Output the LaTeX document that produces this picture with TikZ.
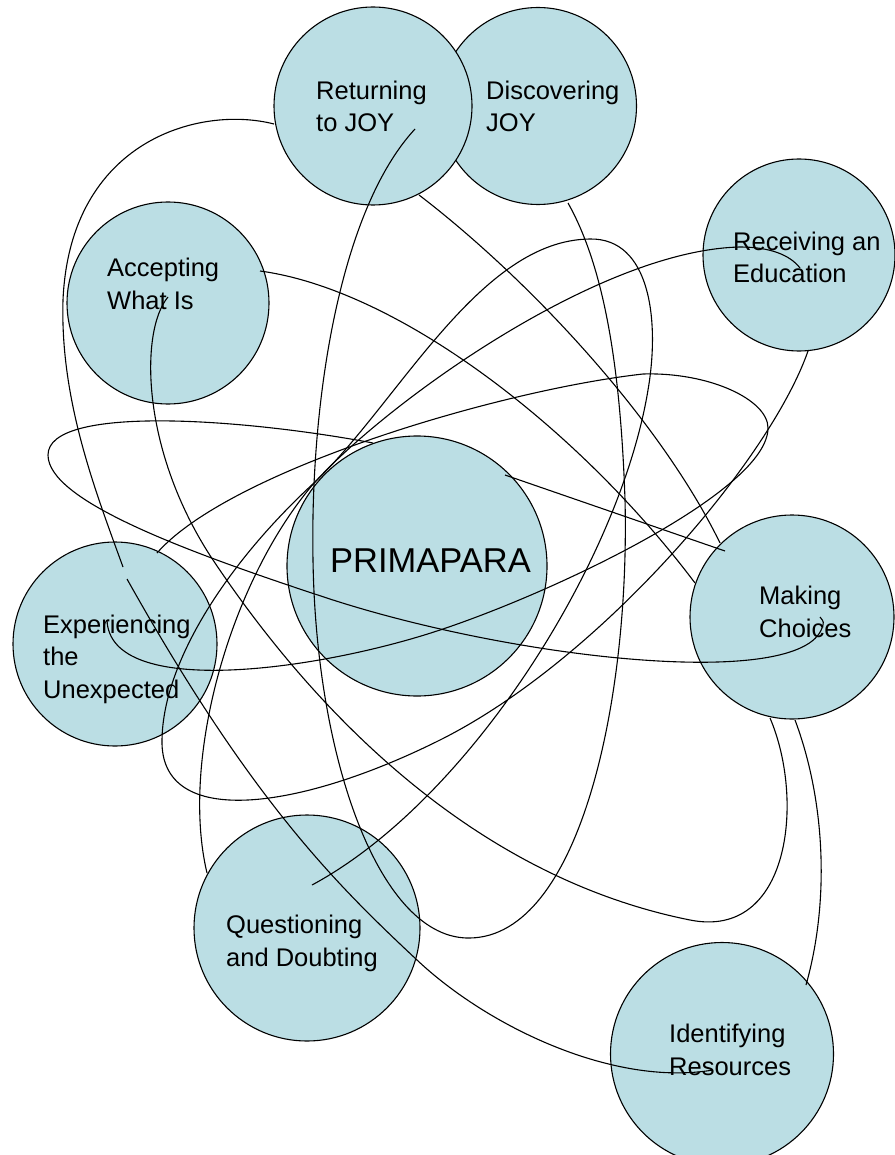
\documentclass[tikz,border=0pt]{standalone}
\usepackage{fontspec}
\setmainfont{Liberation Sans}
\definecolor{bubblefill}{RGB}{187,222,228}

\begin{document}
\begin{tikzpicture}[x=1pt, y=-1pt,
    bubble/.style={circle, draw, fill=bubblefill, line width=1.1pt, inner sep=0pt},
    lbl/.style={font=\fontsize{25.5}{32.5}\selectfont, align=left, anchor=base west, inner sep=0pt},
    link/.style={line width=1.1pt}]
    \useasboundingbox (0,0) rectangle (894,1155);

    % Circles
    \node[bubble, minimum size=197pt] (dis) at (538,106) {};
    \node[bubble, minimum size=198pt] (ret) at (373,106) {};
    \node[bubble, minimum size=202pt] (acc) at (168,303) {};
    \node[bubble, minimum size=192pt] (rec) at (799,255) {};
    \node[bubble, minimum size=260pt] (pri) at (417,566) {};
    \node[bubble, minimum size=204pt] (exp) at (115,644) {};
    \node[bubble, minimum size=204pt] (mak) at (792,617) {};
    \node[bubble, minimum size=226pt] (que) at (307,928) {};
    \node[bubble, minimum size=223pt] (ide) at (722,1054) {};

    % Labels (placed at the baseline of their last line)
    \node[lbl] (dis-t) at (486,132) {Discovering\\JOY};
    \node[lbl] (ret-t) at (316,132) {Returning\\to JOY};
    \node[lbl] (acc-t) at (107,309) {Accepting\\What Is};
    \node[lbl] (rec-t) at (733,283) {Receiving an\\Education};
    \node[lbl, font=\fontsize{34.5}{40}\selectfont] (pri-t) at (330,572) {PRIMAPARA};
    \node[lbl] (exp-t) at (43,698) {Experiencing\\the\\Unexpected};
    \node[lbl] (mak-t) at (759,637) {Making\\Choices};
    \node[lbl] (que-t) at (226,966) {Questioning\\and Doubting};
    \node[lbl] (ide-t) at (669,1075) {Identifying\\Resources};

    % Ends of the links
    \coordinate (ret-w) at (274,124);
    \coordinate (ret-c) at (415,129);
    \coordinate (ret-se) at (419,195);
    \coordinate (dis-s) at (568,203);
    \coordinate (acc-e) at (260,271);
    \coordinate (acc-c) at (168,297);
    \coordinate (rec-c) at (800,268);
    \coordinate (rec-s) at (808,351);
    \coordinate (pri-nw) at (373,443);
    \coordinate (pri-ne) at (505,475);
    \coordinate (exp-n) at (157,553);
    \coordinate (exp-c) at (107,620);
    \coordinate (exp-a) at (123,567);
    \coordinate (exp-b) at (127,579);
    \coordinate (mak-nw) at (720,543);
    \coordinate (mak-w) at (695,583);
    \coordinate (mak-c) at (725,551);
    \coordinate (mak-hook) at (820,617);
    \coordinate (mak-s) at (770,718);
    \coordinate (mak-se) at (795,720);
    \coordinate (que-w) at (207,873);
    \coordinate (que-c) at (312,885);
    \coordinate (ide-ne) at (806,985);
    \coordinate (ide-c) at (713,1070);

    % Links
    \draw[link] (ret-w) .. controls (200,105) and (70,140) .. (63,300)
                        .. controls (60,400) and (95,490) .. (exp-a);
    \draw[link] (exp-b) .. controls (252,802) and (337,885) .. (417,960)
                        .. controls (487,1026) and (613,1087) .. (ide-c);
    \draw[link] (ret-c) .. controls (340,210) and (310,400) .. (313,560)
                        .. controls (316,760) and (380,940) .. (470,938)
                        .. controls (580,936) and (630,700) .. (625,500)
                        .. controls (620,350) and (600,260) .. (dis-s);
    \draw[link] (ret-se) .. controls (530,280) and (660,420) .. (mak-nw);
    \draw[link] (acc-e) .. controls (400,290) and (580,430) .. (mak-w);
    \draw[link] (pri-ne) -- (mak-c);
    \draw[link] (pri-nw) .. controls (240,418) and (48,405) .. (48,455)
                         .. controls (48,500) and (180,550) .. (333,600)
                         .. controls (520,660) and (800,690) .. (822,628)
                         .. controls (824,622) .. (mak-hook);
    \draw[link] (exp-n) .. controls (230,470) and (500,390) .. (643,374)
                        .. controls (710,372) and (768,400) .. (768,428)
                        .. controls (768,490) and (560,590) .. (440,630)
                        .. controls (320,670) and (110,700) .. (exp-c);
    \draw[link] (rec-s) .. controls (770,460) and (600,660) .. (440,740)
                        .. controls (300,810) and (160,830) .. (162,740)
                        .. controls (163,660) and (230,560) .. (315,482)
                        .. controls (400,400) and (480,240) .. (590,239)
                        .. controls (650,238) and (660,320) .. (648,390)
                        .. controls (620,560) and (470,800) .. (que-c);
    \draw[link] (que-w) .. controls (180,760) and (230,580) .. (315,482)
                        .. controls (390,400) and (600,250) .. (740,247)
                        .. controls (770,247) and (790,255) .. (rec-c);
    \draw[link] (acc-c) .. controls (140,330) and (140,450) .. (213,560)
                        .. controls (280,660) and (440,870) .. (690,920)
                        .. controls (790,940) and (805,800) .. (mak-s);
    \draw[link] (mak-se) .. controls (825,800) and (830,900) .. (ide-ne);
\end{tikzpicture}
\end{document}
